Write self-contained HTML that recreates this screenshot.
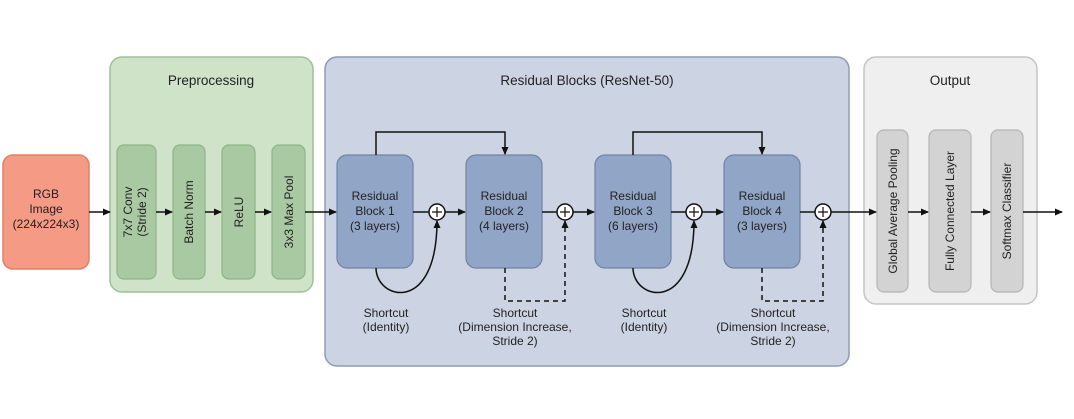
<!DOCTYPE html>
<html><head><style>
body{margin:0;background:#fff;}
svg text{font-family:"Liberation Sans",sans-serif;font-size:12px;fill:#222;}
</style></head><body>
<svg width="1074" height="414" viewBox="0 0 1074 414" xmlns="http://www.w3.org/2000/svg">
<defs>
<marker id="a" markerWidth="8" markerHeight="8" refX="7" refY="4" orient="auto" markerUnits="userSpaceOnUse"><path d="M0,0.5 L8,4 L0,7.5 z" fill="#111"/></marker>
</defs>
<rect x="110" y="57" width="203" height="235" rx="12" fill="#cfe3c9" stroke="#9fc09a" stroke-width="1.5"/>
<text x="211" y="85" text-anchor="middle" style="font-size:13.5px">Preprocessing</text>
<rect x="325" y="57" width="524" height="309" rx="12" fill="#ccd4e3" stroke="#8f9bb3" stroke-width="1.5"/>
<text x="587" y="85" text-anchor="middle" style="font-size:13.5px">Residual Blocks (ResNet-50)</text>
<rect x="864" y="57" width="173" height="247" rx="12" fill="#efefef" stroke="#c4c4c4" stroke-width="1.5"/>
<text x="950" y="85" text-anchor="middle" style="font-size:13.5px">Output</text>
<rect x="3" y="155" width="86" height="114" rx="10" fill="#f59a84" stroke="#e08068" stroke-width="1.5"/>
<text x="46" y="198" text-anchor="middle">RGB</text>
<text x="46" y="213" text-anchor="middle">Image</text>
<text x="46" y="228" text-anchor="middle">(224x224x3)</text>
<g fill="#a9c9a2" stroke="#8fb488" stroke-width="1.2">
<rect x="117" y="145" width="39" height="134" rx="7"/>
<rect x="173" y="145" width="32" height="134" rx="7"/>
<rect x="222" y="145" width="33" height="134" rx="7"/>
<rect x="272" y="145" width="33" height="134" rx="7"/>
</g>
<text transform="translate(132,212) rotate(-90)" text-anchor="middle">7x7 Conv</text>
<text transform="translate(146,212) rotate(-90)" text-anchor="middle">(Stride 2)</text>
<text transform="translate(193,212) rotate(-90)" text-anchor="middle">Batch Norm</text>
<text transform="translate(243,212) rotate(-90)" text-anchor="middle">ReLU</text>
<text transform="translate(293,212) rotate(-90)" text-anchor="middle">3x3 Max Pool</text>
<g fill="#d3d3d3" stroke="#b5b5b5" stroke-width="1.2">
<rect x="877" y="130" width="31" height="162" rx="7"/>
<rect x="929" y="130" width="42" height="162" rx="7"/>
<rect x="991" y="130" width="32" height="162" rx="7"/>
</g>
<text transform="translate(897,211) rotate(-90)" text-anchor="middle">Global Average Pooling</text>
<text transform="translate(954,211) rotate(-90)" text-anchor="middle">Fully Connected Layer</text>
<text transform="translate(1011,211) rotate(-90)" text-anchor="middle">Softmax Classifier</text>
<g fill="#91a6c6" stroke="#6f84a6" stroke-width="1.2">
<rect x="337" y="155" width="76" height="113" rx="10"/>
<rect x="466" y="155" width="76" height="113" rx="10"/>
<rect x="595" y="155" width="76" height="113" rx="10"/>
<rect x="724" y="155" width="76" height="113" rx="10"/>
</g>
<g text-anchor="middle">
<text x="375" y="200">Residual</text><text x="375" y="215">Block 1</text><text x="375" y="230">(3 layers)</text>
<text x="504" y="200">Residual</text><text x="504" y="215">Block 2</text><text x="504" y="230">(4 layers)</text>
<text x="633" y="200">Residual</text><text x="633" y="215">Block 3</text><text x="633" y="230">(6 layers)</text>
<text x="762" y="200">Residual</text><text x="762" y="215">Block 4</text><text x="762" y="230">(3 layers)</text>
</g>
<g stroke="#111" stroke-width="1.5" fill="none">
<line x1="89" y1="212" x2="110" y2="212" marker-end="url(#a)"/>
<line x1="156" y1="212" x2="172" y2="212" marker-end="url(#a)"/>
<line x1="205" y1="212" x2="221" y2="212" marker-end="url(#a)"/>
<line x1="255" y1="212" x2="271" y2="212" marker-end="url(#a)"/>
<line x1="305" y1="212" x2="336" y2="212" marker-end="url(#a)"/>
<line x1="413" y1="212" x2="429" y2="212"/>
<line x1="445" y1="212" x2="465" y2="212" marker-end="url(#a)"/>
<line x1="542" y1="212" x2="557" y2="212"/>
<line x1="573" y1="212" x2="594" y2="212" marker-end="url(#a)"/>
<line x1="671" y1="212" x2="686" y2="212"/>
<line x1="702" y1="212" x2="723" y2="212" marker-end="url(#a)"/>
<line x1="800" y1="212" x2="815" y2="212"/>
<line x1="831" y1="212" x2="876" y2="212" marker-end="url(#a)"/>
<line x1="908" y1="212" x2="928" y2="212" marker-end="url(#a)"/>
<line x1="971" y1="212" x2="990" y2="212" marker-end="url(#a)"/>
<line x1="1023" y1="212" x2="1062" y2="212" marker-end="url(#a)"/>
<polyline points="376,155 376,132 505,132 505,154" marker-end="url(#a)"/>
<polyline points="633,155 633,132 762,132 762,154" marker-end="url(#a)"/>
<path d="M376,268 C376,300 437,315 437,221" marker-end="url(#a)"/>
<path d="M633,268 C633,300 694,315 694,221" marker-end="url(#a)"/>
<polyline points="505,268 505,301 565,301 565,221" stroke-dasharray="5,4" marker-end="url(#a)"/>
<polyline points="762,268 762,301 823,301 823,221" stroke-dasharray="5,4" marker-end="url(#a)"/>
<circle cx="437" cy="212" r="8" fill="#fff"/>
<circle cx="565" cy="212" r="8" fill="#fff"/>
<circle cx="694" cy="212" r="8" fill="#fff"/>
<circle cx="823" cy="212" r="8" fill="#fff"/>
<path d="M432,212h10M437,207v10M560,212h10M565,207v10M689,212h10M694,207v10M818,212h10M823,207v10" stroke-width="1.2"/>
</g>
<g text-anchor="middle">
<text x="386" y="317">Shortcut</text><text x="386" y="331">(Identity)</text>
<text x="515" y="317">Shortcut</text><text x="515" y="331">(Dimension Increase,</text><text x="515" y="345">Stride 2)</text>
<text x="644" y="317">Shortcut</text><text x="644" y="331">(Identity)</text>
<text x="773" y="317">Shortcut</text><text x="773" y="331">(Dimension Increase,</text><text x="773" y="345">Stride 2)</text>
</g>
</svg>
</body></html>
